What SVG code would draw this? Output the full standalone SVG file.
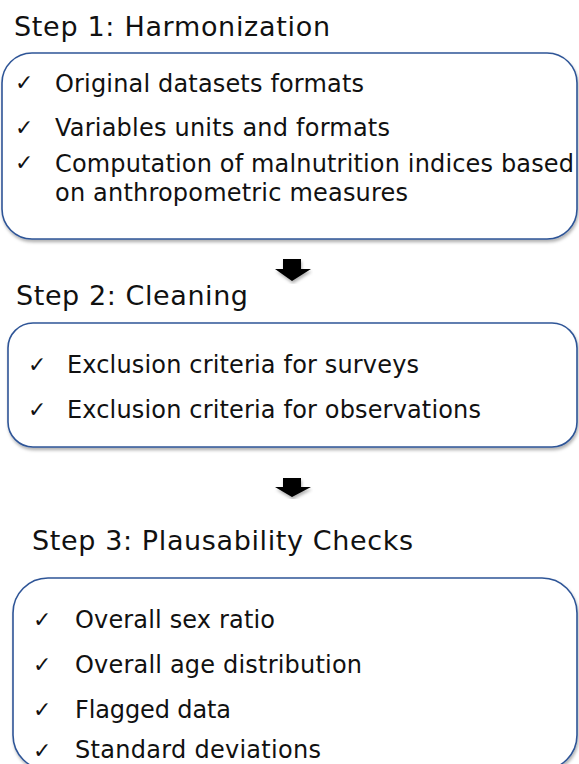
<svg xmlns="http://www.w3.org/2000/svg" width="579" height="764" viewBox="0 0 579 764">
  <defs>
    <filter id="shadow" x="-5%" y="-5%" width="110%" height="115%">
      <feDropShadow dx="1" dy="2.5" stdDeviation="1.5" flood-color="#000" flood-opacity="0.3"/>
    </filter>
  </defs>
  <style>
    .box { fill: #ffffff; stroke: #2F5597; stroke-width: 1.6; filter: url(#shadow); }
    .title { font-family: "DejaVu Sans", Verdana, sans-serif; font-size: 27px; fill: #111; }
    .item { font-family: "DejaVu Sans", Verdana, sans-serif; font-size: 24px; fill: #111; }
    .check { font-family: "DejaVu Sans", sans-serif; font-size: 22px; fill: #111; }
    .arrow { fill: #000; filter: url(#shadow); }
  </style>
  <rect width="579" height="764" fill="#ffffff"/>

  <!-- step 1 -->
  <g id="step1">
    <text class="title" x="14" y="36" textLength="316" lengthAdjust="spacing">Step 1: Harmonization</text>
    <rect class="box" x="2" y="53" width="575" height="186" rx="30" ry="30"/>
    <text class="check" x="15" y="90">✓</text>
    <text class="item" x="55" y="91.5" textLength="309" lengthAdjust="spacing">Original datasets formats</text>
    <text class="check" x="15" y="135">✓</text>
    <text class="item" x="55" y="136" textLength="335" lengthAdjust="spacing">Variables units and formats</text>
    <text class="check" x="15" y="170">✓</text>
    <text class="item" x="55" y="171.5" textLength="519" lengthAdjust="spacing">Computation of malnutrition indices based</text>
    <text class="item" x="55" y="201" textLength="353" lengthAdjust="spacing">on anthropometric measures</text>
  </g>

  <!-- step 2 -->
  <g id="step2">
    <text class="title" x="16" y="305" textLength="232" lengthAdjust="spacing">Step 2: Cleaning</text>
    <rect class="box" x="8" y="323" width="569" height="124" rx="25" ry="25"/>
    <text class="check" x="28" y="372">✓</text>
    <text class="item" x="67" y="373" textLength="352" lengthAdjust="spacing">Exclusion criteria for surveys</text>
    <text class="check" x="28" y="417">✓</text>
    <text class="item" x="67" y="418" textLength="414" lengthAdjust="spacing">Exclusion criteria for observations</text>
  </g>

  <!-- step 3 -->
  <g id="step3">
    <text class="title" x="32" y="550" textLength="381" lengthAdjust="spacing">Step 3: Plausability Checks</text>
    <rect class="box" x="13" y="578" width="564" height="192" rx="35" ry="35"/>
    <text class="check" x="33" y="627">✓</text>
    <text class="item" x="75" y="628" textLength="200" lengthAdjust="spacing">Overall sex ratio</text>
    <text class="check" x="33" y="672">✓</text>
    <text class="item" x="75" y="673" textLength="287" lengthAdjust="spacing">Overall age distribution</text>
    <text class="check" x="33" y="717">✓</text>
    <text class="item" x="75" y="718" textLength="156" lengthAdjust="spacing">Flagged data</text>
    <text class="check" x="33" y="758">✓</text>
    <text class="item" x="75" y="758" textLength="246" lengthAdjust="spacing">Standard deviations</text>
  </g>

  <!-- down arrows between steps -->
  <g id="connectors">
    <polygon class="arrow" points="283,259 301,259 301,269 311,269 292,281 275,269 283,269"/>
    <polygon class="arrow" points="283,478 301,478 301,487 311,487 292,497 275,487 283,487"/>
  </g>
</svg>
